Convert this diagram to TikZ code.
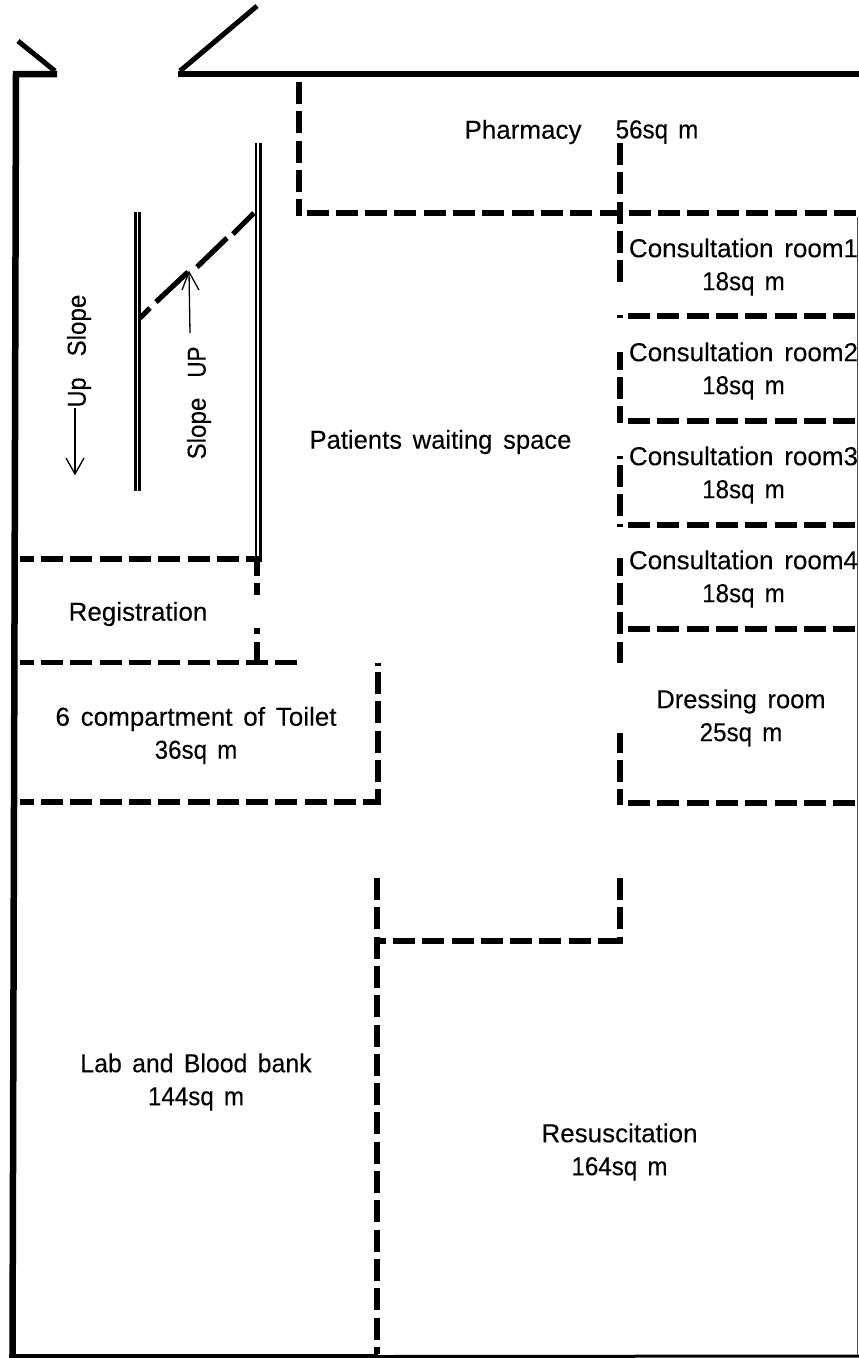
\documentclass[tikz,border=0pt]{standalone}
\usepackage{fontspec}
\setmainfont[WordSpace=1.5,FakeBold=0.12]{Liberation Sans}
\newcommand\sqmlabel[1]{\scalebox{.93}[1]{#1sq m}}
\tikzset{
  wall/.style={line width=6.5pt,line cap=butt,line join=miter},
  partition/.style={line width=5.2pt,dash pattern=on 22pt off 7.3pt},
  solidpart/.style={line width=5.2pt},
  rail/.style={line width=2.5pt},
  thin arrow/.style={line width=1.3pt},
  room/.style={font=\fontsize{26}{33}\selectfont,align=center,inner sep=0pt},
}
\begin{document}
\begin{tikzpicture}[x=1pt,y=-1pt]
\useasboundingbox (0,0) rectangle (859,1358);
\fill[white] (0,0) rectangle (859,1358);
% outer walls
\coordinate (tl) at (16,74);
\coordinate (bl) at (12.5,1356);
\coordinate (br) at (859,1356);
\coordinate (doorL) at (57,74);
\coordinate (doorR) at (178,74);
\coordinate (tr) at (859,74);
\draw[wall] (doorL) -- (tl) -- (bl);
\draw[line width=4pt] (9,1356) -- (378,1356);
\draw[line width=3pt] (378,1356.5) -- (br);
\draw[wall] (doorR) -- (tr);
\draw[line width=5pt] (55,71) -- (18,41);
\draw[line width=5pt] (180,71) -- (257,6);
\draw[black!70,line width=1.3pt] (857.5,217) -- (857.5,1355);
% double rails
\draw[rail] (256,143) -- (256,562);
\draw[rail] (260.5,143) -- (260.5,562);
\draw[rail] (135.3,212) -- (135.3,491);
\draw[rail] (139.7,212) -- (139.7,491);
% slanted partition
\draw[solidpart] (254,213) -- (233,234);
\draw[solidpart] (227,238) -- (197,267);
\draw[solidpart] (188,272) -- (156,302);
\draw[solidpart] (150,308) -- (140,318);
% arrows
\draw[thin arrow] (75,408) -- (75,474);
\draw[thin arrow] (66,458) -- (75,474) -- (84,458);
\draw[thin arrow] (190,333) -- (189,272);
\draw[thin arrow] (182,290) -- (189,272) -- (199,290);
% pharmacy
\draw[partition] (299,82) -- (299,216);
\draw[partition] (306.5,213) -- (859,213);
\draw[partition] (620,143) -- (620,283);
% consultation rooms
\draw[solidpart] (620,315) -- (620,317.5);
\draw[partition] (628,316) -- (859,316);
\draw[partition,dash phase=4.3pt] (620,352) -- (620,423);
\draw[partition] (628,421) -- (859,421);
\draw[solidpart] (620,456) -- (620,458.5);
\draw[partition] (620,465) -- (620,518);
\draw[solidpart] (620,524) -- (620,526.5);
\draw[partition] (628,525) -- (859,525);
\draw[partition,dash phase=4.3pt] (620,558) -- (620,663);
\draw[partition] (628,629) -- (859,629);
\draw[partition,dash phase=2.3pt] (620,733) -- (620,805);
\draw[partition] (628,803) -- (859,803);
% lower centre
\draw[partition] (620,878) -- (620,944);
\draw[partition] (620,941) -- (375,941);
\draw[partition] (377,878) -- (377,1354);
% toilet
\draw[solidpart] (378,662.5) -- (378,665.5);
\draw[partition] (378,672) -- (378,805);
\draw[partition,dash phase=8.3pt] (20,802) -- (380,802);
% registration
\draw[partition,dash phase=8.3pt] (20,559) -- (262,559);
\draw[solidpart] (257,559) -- (257,576);
\draw[solidpart] (257,583) -- (257,595);
\draw[solidpart] (257,628) -- (257,634);
\draw[solidpart] (257,642) -- (257,663);
\draw[partition,dash phase=8.3pt] (20,662.5) -- (298,662.5);
% labels
\node[room] (pharm) at (523,132) {Pharmacy};
\node[room] (pharmsq) at (657,132) {\sqmlabel{56}};
\node[room] (wait) at (440.5,442) {\scalebox{.985}[1]{Patients waiting space}};
\node[room] (c1) at (743.5,267) {Consultation room1\\\sqmlabel{18}};
\node[room] (c2) at (743.5,371) {Consultation room2\\\sqmlabel{18}};
\node[room] (c3) at (743.5,475) {Consultation room3\\\sqmlabel{18}};
\node[room] (c4) at (743.5,579) {Consultation room4\\\sqmlabel{18}};
\node[room] (dress) at (741,718) {\scalebox{.98}[1]{Dressing room}\\\sqmlabel{25}};
\node[room] (reg) at (138,614) {Registration};
\node[room] (toilet) at (196,735.5) {6 compartment of Toilet\\\sqmlabel{36}};
\node[room] (lab) at (196,1082) {\scalebox{.955}[1]{Lab and Blood bank}\\\sqmlabel{144}};
\node[room] (resus) at (619.5,1152) {Resuscitation\\\sqmlabel{164}};
\node[room,rotate=90] (upslope) at (79,351) {\scalebox{.9}[1]{Up}\hspace{21pt}\scalebox{.93}[1]{Slope}};
\node[room,rotate=90] (slopeup) at (199,403) {\scalebox{.93}[1]{Slope}\hspace{20pt}\scalebox{.86}[1]{UP}};
\end{tikzpicture}
\end{document}
